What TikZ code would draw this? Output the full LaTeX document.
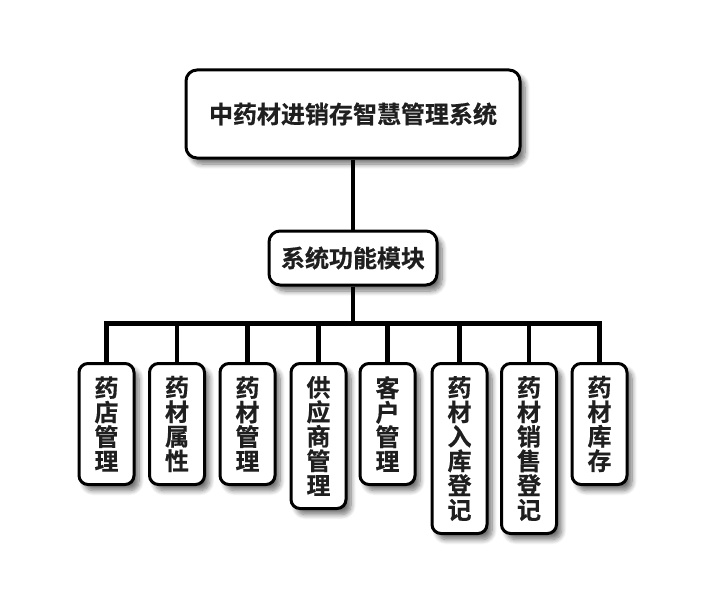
\documentclass[tikz,border=0pt]{standalone}
\usepackage{fontspec}
\newfontfamily\cjk[FakeBold=0.6]{Noto Sans CJK SC Bold}
\usetikzlibrary{shadows.blur,backgrounds}
\begin{document}
\begin{tikzpicture}[x=1pt,y=-1pt,
  box/.style={draw=black,line width=3pt,fill=white,rounded corners=11pt,
    blur shadow={shadow xshift=5pt,shadow yshift=-6pt,shadow blur steps=8,shadow blur radius=5pt,shadow opacity=55},
    text=black!88,font=\cjk\fontsize{24}{24.5}\selectfont,inner sep=0pt,align=center},
  leaf/.style={box,rounded corners=9pt,minimum width=55pt,anchor=north},
  conn/.style={line width=4.5pt,draw=black}]
\useasboundingbox (0,0) rectangle (706,607);
\node[box,minimum width=334pt,minimum height=88pt] (top) at (353,114) {中药材进销存智慧管理系统};
\node[box,minimum width=168pt,minimum height=54pt] (mid) at (353,258) {系统功能模块};
\node[leaf,minimum height=121pt] (l1) at (106.5,362) {药\\店\\管\\理};
\node[leaf,minimum height=121pt] (l2) at (177,362) {药\\材\\属\\性};
\node[leaf,minimum height=121pt] (l3) at (247.5,362) {药\\材\\管\\理};
\node[leaf,minimum height=145pt] (l4) at (318.5,362) {供\\应\\商\\管\\理};
\node[leaf,minimum height=121pt] (l5) at (387.5,362) {客\\户\\管\\理};
\node[leaf,minimum height=170pt] (l6) at (459.5,362) {药\\材\\入\\库\\登\\记};
\node[leaf,minimum height=170pt] (l7) at (529,362) {药\\材\\销\\售\\登\\记};
\node[leaf,minimum height=121pt] (l8) at (599.5,362) {药\\材\\库\\存};
\coordinate (bar) at (353,323.5);
\begin{scope}[on background layer]
\draw[conn] (top.south) -- (mid.north);
\draw[conn] (mid.south) -- (bar);
\foreach \n in {l1,l2,l3,l4,l5,l6,l7,l8}
  \draw[conn] (\n.north) |- (bar);
\end{scope}
\end{tikzpicture}
\end{document}
